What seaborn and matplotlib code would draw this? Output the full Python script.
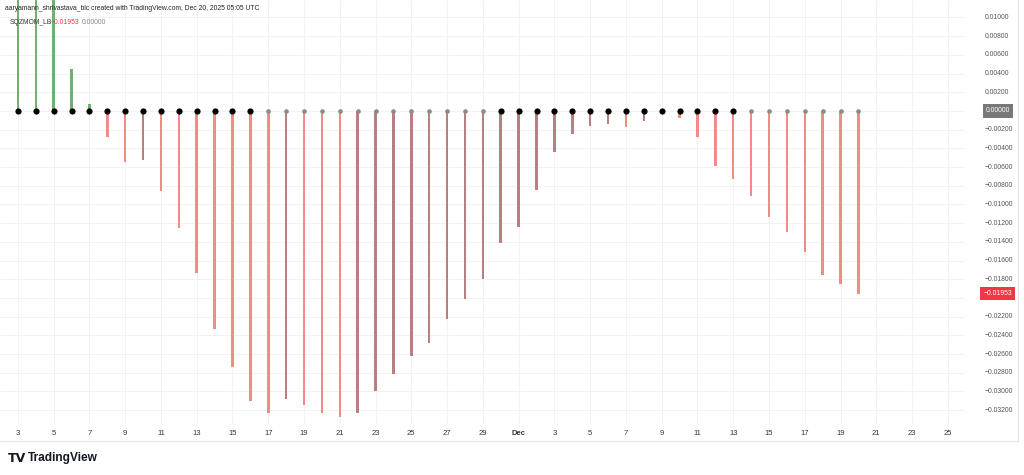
import seaborn as sns
import pandas as pd
import matplotlib.pyplot as plt
import matplotlib.transforms as mtransforms
import numpy as np

# SQZMOM_LB daily values, Nov 3 -> Dec 20
months = ["Nov"] * 28 + ["Dec"] * 20
days = list(range(3, 31)) + list(range(1, 21))
momentum = [0.0125, 0.0125, 0.0125, 0.0045, 0.00075, -0.0028, -0.0055, -0.0052,
            -0.0086, -0.0125, -0.0173, -0.0233, -0.0274, -0.0310, -0.0323, -0.0308,
            -0.0315, -0.0323, -0.0327, -0.0323, -0.0300, -0.0281, -0.0262, -0.0248,
            -0.0223, -0.0201, -0.0180, -0.0141,
            -0.0124, -0.0085, -0.0044, -0.0025, -0.0016, -0.0014, -0.0017, -0.0011,
            -0.0001, -0.0007, -0.0028, -0.0059, -0.0073, -0.0091, -0.0113, -0.0129,
            -0.0151, -0.0175, -0.0185, -0.01953]
# squeeze state: 1 = black dot, 0 = grey dot
squeeze_on = [1] * 14 + [0] * 13 + [1] * 14 + [0] * 7
ytick_vals = [round(0.01 - 0.002 * k, 3) for k in range(22)]
tick_labels = ["3", "5", "7", "9", "11", "13", "15", "17", "19", "21", "23", "25", "27", "29",
               "Dec", "3", "5", "7", "9", "11", "13", "15", "17", "19", "21", "23", "25"]

df = pd.DataFrame({"month": months, "day": days, "val": momentum, "sqz": squeeze_on})
df["i"] = np.arange(len(df))
prev = df["val"].shift(1).fillna(df["val"].iloc[0])
df["kind"] = np.where(df["val"] >= 0, "up",
                      np.where(df["val"] < prev, "down", "recover"))

sns.set_style("white")
plt.rcParams["font.family"] = ["Liberation Sans", "DejaVu Sans"]

W, H = 1024, 475
fig = plt.figure(figsize=(W / 100, H / 100), dpi=100)
ax = fig.add_axes([0, (H - 424) / H, 965 / W, 424 / H])

pal = {"up": "#6fb16f", "down": "#f28a86", "recover": "#b87f81"}
sns.barplot(data=df, x="i", y="val", hue="kind", palette=pal, native_scale=True,
            width=0.14, dodge=False, errorbar=None, legend=False, linewidth=0,
            saturation=1, ax=ax, zorder=2)

dots = df.assign(z=0.0)
sns.scatterplot(data=dots[dots.sqz == 0], x="i", y="z", color="#8a8a8a", s=11,
                linewidth=0, ax=ax, zorder=3)
sns.scatterplot(data=dots[dots.sqz == 1], x="i", y="z", color="black", s=20,
                linewidth=0, ax=ax, zorder=4)

ax.set_xlim(-1.0, 52.96)
ax.set_ylim(-0.03348, 0.01187)
xt = list(range(0, 53, 2))
ax.set_xticks(xt)
ax.set_xticklabels(tick_labels)
for lab in ax.get_xticklabels():
    lab.set_fontsize(5.5)
    lab.set_color("#333333")
    if lab.get_text() == "Dec":
        lab.set_fontweight("bold")
ax.tick_params(axis="x", length=0, pad=4)
ax.set_yticks(ytick_vals)
ax.set_yticklabels([])
ax.tick_params(axis="y", length=0)
ax.grid(True, color="#f2f2f2", linewidth=0.8, zorder=0)
ax.set_axisbelow(True)
ax.set_xlabel("")
ax.set_ylabel("")
for s in ax.spines.values():
    s.set_visible(False)

# right price scale
tr = mtransforms.blended_transform_factory(fig.transFigure, ax.transData)
for v in ytick_vals:
    if abs(v) < 1e-9:
        continue
    txt = f"{v:.5f}".replace("-", "\u2212")
    ax.text(985 / W, v, txt, transform=tr, fontsize=4.9, color="#555555",
            va="center", ha="left", clip_on=False)
ax.text(1010 / W, 0.0, "0.00000", transform=tr, fontsize=4.9, color="white",
        va="center", ha="right", clip_on=False,
        bbox=dict(boxstyle="square,pad=0.45", fc="#787878", ec="none"))
last = momentum[-1]
ax.text(1012 / W, last, f"{last:.5f}".replace("-", "\u2212"), transform=tr, fontsize=4.9,
        color="white", va="center", ha="right", clip_on=False,
        bbox=dict(boxstyle="square,pad=0.45", fc="#f23645", ec="none"))

# frame lines
fig.add_artist(plt.Line2D([0, 1018 / W], [1 - 441 / H] * 2, color="#e6e6e6", lw=0.8))
fig.add_artist(plt.Line2D([1018 / W] * 2, [1 - 441 / H, 1], color="#e6e6e6", lw=0.8))

# header
fig.text(5 / W, 1 - 8 / H, "aaryamann_shrivastava_blc created with TradingView.com, Dec 20, 2025 05:05 UTC",
         fontsize=4.9, color="#222222", va="center")
fig.text(10 / W, 1 - 23 / H, "SQZMOM_LB", fontsize=4.9, color="#333333", va="center")
fig.text(51 / W, 1 - 23 / H, f"{last:.5f}".replace("-", "\u2212"), fontsize=4.9,
         color="#f23645", va="center")
fig.text(82 / W, 1 - 23 / H, "0.00000", fontsize=4.9, color="#888888", va="center")

# footer logo
fig.text(8 / W, 1 - 458 / H, "TV", fontsize=9, fontweight="bold", color="#131722",
         va="center", family=["DejaVu Sans"])
fig.text(28 / W, 1 - 458 / H, "TradingView", fontsize=8.6, fontweight="bold",
         color="#131722", va="center")

fig.savefig("out.png", dpi=100)
